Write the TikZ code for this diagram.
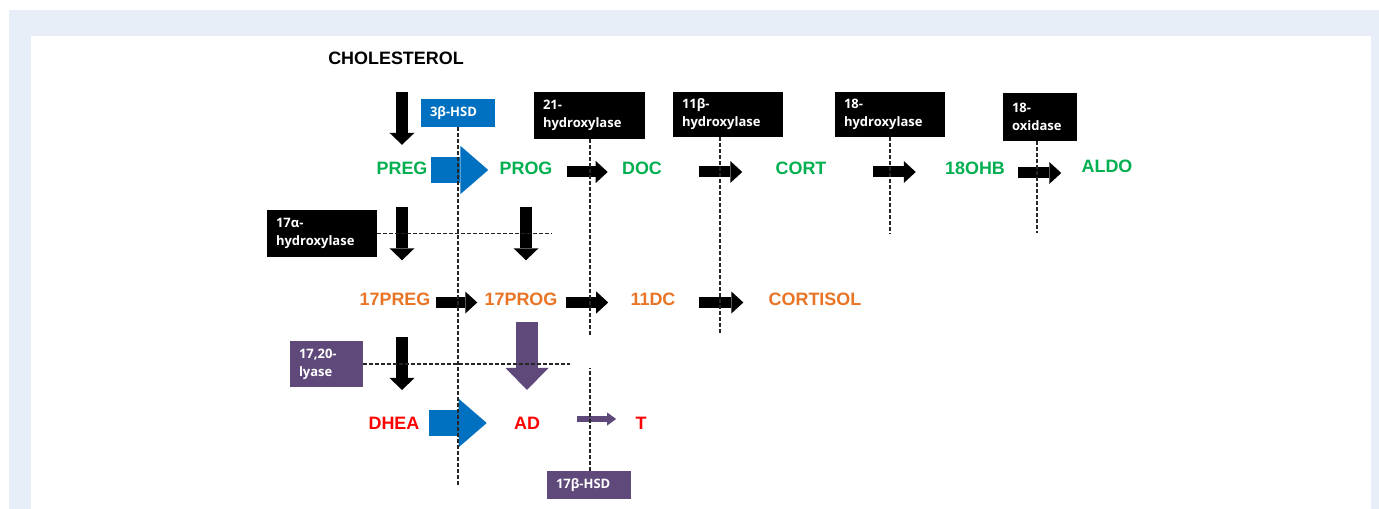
\documentclass[tikz,border=0pt]{standalone}
\usepackage{fontspec}
\setmainfont{Liberation Sans}
\newfontfamily\enzfont{Open Sans}
\usetikzlibrary{arrows.meta}
\definecolor{metgreen}{HTML}{00B050}
\definecolor{metorange}{HTML}{E97424}
\definecolor{metred}{HTML}{FF0000}
\definecolor{hsdblue}{HTML}{0070C0}
\definecolor{lyasepurple}{HTML}{5F497A}
\definecolor{frameblue}{HTML}{E7EEF8}
\begin{document}
\begin{tikzpicture}[x=0.2mm, y=-0.2mm,
    met/.style={inner sep=0pt, font=\fontsize{10.2}{12}\selectfont\bfseries},
    enz/.style={fill=black, text=white, align=left, inner xsep=1.8mm, inner ysep=0pt,
        font=\enzfont\fontsize{7.4}{10.2}\selectfont\bfseries},
    blkv/.style={line width=2.4mm, -{Triangle[width=5mm, length=2.4mm, line width=0pt]}},
    blkh/.style={line width=2.2mm, -{Triangle[width=4.4mm, length=2.4mm, line width=0pt]}},
    hsdh/.style={hsdblue, line width=5.2mm, -{Triangle[width=9.7mm, length=5.6mm, line width=0pt]}},
    lyv/.style={lyasepurple, line width=4.4mm, -{Triangle[width=8.6mm, length=4.4mm, line width=0pt]}},
    lysm/.style={lyasepurple, line width=1.2mm, -{Triangle[width=2.6mm, length=1.8mm, line width=0pt]}},
    guide/.style={black!85, line width=0.6pt, dash pattern=on 0.7mm off 0.5mm}]
\useasboundingbox (0,0) rectangle (1379,509);
\fill[white] (0,0) rectangle (1379,509);
\fill[frameblue] (9,10) rectangle (1379,509);
\fill[white] (31,36) rectangle (1371,509);

% metabolites
\node (chol) at (396,58) [met] {CHOLESTEROL};
\node (preg) at (402,168) [met, text=metgreen] {PREG};
\node (prog) at (526,168) [met, text=metgreen] {PROG};
\node (doc) at (642,168) [met, text=metgreen] {DOC};
\node (cort) at (801,168) [met, text=metgreen] {CORT};
\node (ohb) at (975,168) [met, text=metgreen] {18OHB};
\node (aldo) at (1107,166) [met, text=metgreen] {ALDO};
\node (preg17) at (395,299) [met, text=metorange] {17PREG};
\node (prog17) at (521,299) [met, text=metorange] {17PROG};
\node (dc11) at (653,299) [met, text=metorange] {11DC};
\node (cortisol) at (815,299) [met, text=metorange] {CORTISOL};
\node (dhea) at (394,423) [met, text=metred] {DHEA};
\node (ad) at (527,423) [met, text=metred] {AD};
\node (t) at (641,423) [met, text=metred] {T};

% enzymes
\node (hsd3) at (458,113) [enz, fill=hsdblue, text width=11.2mm, minimum height=5.6mm] {3β-HSD};
\node (hyd21) at (589.5,115.5) [enz, text width=18.6mm, minimum height=9.4mm] {21-\\hydroxylase};
\node (hyd11) at (728,114.5) [enz, text width=18.4mm, minimum height=9mm] {11β-\\hydroxylase};
\node (hyd18) at (890,114.5) [enz, text width=18.4mm, minimum height=9mm] {18-\\hydroxylase};
\node (oxi18) at (1040,117) [enz, text width=11.2mm, minimum height=9.6mm] {18-\\oxidase};
\node (hyd17) at (322,233.5) [enz, text width=18.4mm, minimum height=9.4mm] {17α-\\hydroxylase};
\node (lyase) at (326.5,364) [enz, fill=lyasepurple, text width=11mm, minimum height=9.2mm] {17,20-\\lyase};
\node (hsd17) at (589,485) [enz, fill=lyasepurple, text width=13.2mm, minimum height=5.6mm] {17β-HSD};

% ends of the dashed guides
\coordinate (g3) at (458,485);
\coordinate (g21) at (590,337);
\coordinate (g21b) at (590,368);
\coordinate (g11) at (720,335);
\coordinate (g18) at (890,234);
\coordinate (gox) at (1037,233);
\coordinate (g17a) at (552,233.5);
\coordinate (g1720) at (570,364);

% downward steps
\draw[blkv, shorten <=5.5mm, shorten >=3.3mm] (preg.north |- chol.south) -- (preg.north);
\draw[blkv, shorten <=6.5mm, shorten >=6.4mm] (preg.south) -- (preg.south |- preg17.north);
\draw[blkv, shorten <=6.5mm, shorten >=6.4mm] (prog.south) -- (prog.south |- prog17.north);
\draw[blkv, shorten <=6.2mm, shorten >=5.3mm] (preg17.south -| preg) -- (dhea.north -| preg);
\draw[lyv, shorten <=3.2mm, shorten >=5.3mm] (prog17.south -| ad) -- (ad.north);

% sideways steps
\draw[hsdh, shorten <=0.6mm, shorten >=2.2mm] ([yshift=-0.4mm]preg.east) -- ([yshift=-0.4mm]prog.west);
\draw[hsdh, shorten <=1.8mm, shorten >=5.4mm] (dhea.east) -- (dhea.east -| ad.west);
\draw[blkh, shorten <=2.8mm, shorten >=2.8mm] ([yshift=-0.8mm]prog.east) -- ([yshift=-0.8mm]prog.east -| doc.west);
\draw[blkh, shorten <=7.4mm, shorten >=6.6mm] ([yshift=-0.8mm]doc.east) -- ([yshift=-0.8mm]doc.east -| cort.west);
\draw[blkh, shorten <=9.2mm, shorten >=5.8mm] ([yshift=-0.8mm]cort.east) -- ([yshift=-0.8mm]cort.east -| ohb.west);
\draw[blkh, shorten <=2.6mm, shorten >=4mm] ([yshift=-1mm]ohb.east) -- ([yshift=-1mm]ohb.east -| aldo.west);
\draw[blkh, shorten <=1mm, shorten >=1.4mm] ([yshift=-0.7mm]preg17.east) -- ([yshift=-0.7mm]prog17.west);
\draw[blkh, shorten <=1.6mm, shorten >=4.4mm] ([yshift=-0.7mm]prog17.east) -- ([yshift=-0.7mm]dc11.west);
\draw[blkh, shorten <=4.6mm, shorten >=5mm] ([yshift=-0.7mm]dc11.east) -- ([yshift=-0.7mm]cortisol.west);
\draw[lysm, shorten <=7.4mm, shorten >=3.8mm] ([yshift=0.8mm]ad.east) -- ([yshift=0.8mm]t.west);

% dashed guides
\draw[guide] (hsd3.south) -- (g3);
\draw[guide] (hyd21.south -| g21) -- (g21);
\draw[guide] (hsd17.north -| g21b) -- (g21b);
\draw[guide] (hyd11.south -| g11) -- (g11);
\draw[guide] (hyd18.south) -- (g18);
\draw[guide] (oxi18.south -| gox) -- (gox);
\draw[guide] (hyd17.east) -- (g17a);
\draw[guide] (lyase.east) -- (g1720);
\end{tikzpicture}
\end{document}
